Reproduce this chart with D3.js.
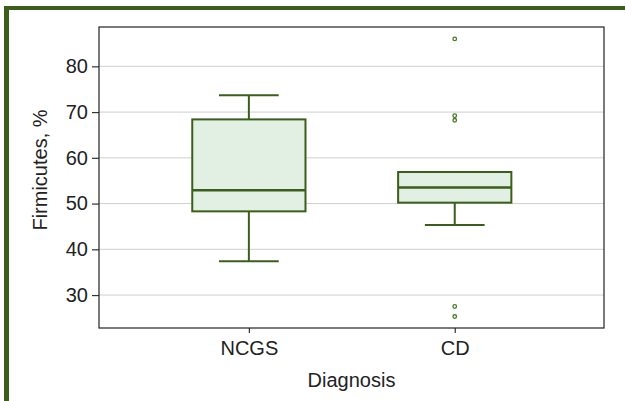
<!DOCTYPE html>
<html>
<head>
<meta charset="utf-8">
<script src="https://cdn.jsdelivr.net/npm/d3@7"></script>
<style>
  html, body { margin: 0; padding: 0; background: #fff; }
  svg { display: block; font-family: "Liberation Sans", Arial, sans-serif; }
</style>
</head>
<body>
<svg id="chart" width="625" height="401"></svg>
<script>
// Firmicutes share (%) by diagnosis: box summaries and outliers
const categories = ["NCGS", "CD"];
const whiskerLow  = [37.4, 45.3];
const q1          = [48.3, 50.2];
const median      = [52.9, 53.5];
const q3          = [68.4, 56.9];
const whiskerHigh = [73.7, 56.9];
const outliers    = [[], [86.0, 69.2, 68.2, 27.5, 25.3]];
const yTicks      = [30, 40, 50, 60, 70, 80];

const green = "#3b5e1c";
const fill = "#e2f0e3";

const svg = d3.select("#chart");
const W = 625, H = 401;
const m = { left: 99, top: 27, right: 604, bottom: 328 };

// outer decorative frame (top and left edges)
svg.append("rect").attr("x", 4).attr("y", 6).attr("width", W).attr("height", 4).attr("fill", green);
svg.append("rect").attr("x", 4).attr("y", 6).attr("width", 5).attr("height", H).attr("fill", green);

const x = d3.scaleLinear().domain([0.272, 2.725]).range([m.left, m.right]);
const y = d3.scaleLinear().domain([22.8, 88.6]).range([m.bottom, m.top]);
const unit = x(2) - x(1);
const boxW = unit * 0.55;
const capW = unit * 0.29;

// horizontal grid
svg.append("g").selectAll("line").data(yTicks).join("line")
  .attr("x1", m.left).attr("x2", m.right)
  .attr("y1", d => y(d)).attr("y2", d => y(d))
  .attr("stroke", "#cfcfcf").attr("stroke-width", 1);

// axes
const yAxis = svg.append("g").attr("transform", `translate(${m.left},0)`)
  .call(d3.axisLeft(y).tickValues(yTicks).tickSize(7).tickPadding(4));
const xAxis = svg.append("g").attr("transform", `translate(0,${m.bottom})`)
  .call(d3.axisBottom(x).tickValues([1, 2]).tickFormat((d, i) => categories[i]).tickSize(5).tickPadding(8));
[yAxis, xAxis].forEach(g => {
  g.select(".domain").remove();
  g.selectAll(".tick line").attr("stroke", "#333").attr("stroke-width", 1.2);
  g.selectAll(".tick text").attr("fill", "#222").style("font-size", "20px")
    .style("font-family", "'Liberation Sans', Arial, sans-serif");
});

// plot frame
svg.append("rect")
  .attr("x", m.left).attr("y", m.top)
  .attr("width", m.right - m.left).attr("height", m.bottom - m.top)
  .attr("fill", "none").attr("stroke", "#222").attr("stroke-width", 1.2);

// boxes
const data = categories.map((c, i) => ({
  pos: i + 1, lo: whiskerLow[i], q1: q1[i], med: median[i], q3: q3[i], hi: whiskerHigh[i], out: outliers[i]
}));
const g = svg.append("g");
data.forEach(d => {
  const cx = x(d.pos);
  const bg = g.append("g").attr("stroke", green).attr("stroke-width", 2);
  // whiskers
  bg.append("line").attr("x1", cx).attr("x2", cx).attr("y1", y(d.q3)).attr("y2", y(d.hi));
  bg.append("line").attr("x1", cx).attr("x2", cx).attr("y1", y(d.q1)).attr("y2", y(d.lo));
  bg.append("line").attr("x1", cx - capW / 2).attr("x2", cx + capW / 2).attr("y1", y(d.hi)).attr("y2", y(d.hi));
  bg.append("line").attr("x1", cx - capW / 2).attr("x2", cx + capW / 2).attr("y1", y(d.lo)).attr("y2", y(d.lo));
  // box
  bg.append("rect").attr("x", cx - boxW / 2).attr("y", y(d.q3))
    .attr("width", boxW).attr("height", y(d.q1) - y(d.q3)).attr("fill", fill);
  // median
  bg.append("line").attr("x1", cx - boxW / 2).attr("x2", cx + boxW / 2)
    .attr("y1", y(d.med)).attr("y2", y(d.med)).attr("stroke-width", 2.5);
  // outliers
  bg.selectAll("circle").data(d.out).join("circle")
    .attr("cx", cx).attr("cy", v => y(v)).attr("r", 1.8)
    .attr("fill", "#fff").attr("stroke", "#4a7a2a").attr("stroke-width", 1.3);
});

// axis titles
svg.append("text").attr("x", (m.left + m.right) / 2).attr("y", 387)
  .attr("text-anchor", "middle").attr("fill", "#222").style("font-size", "20px")
  .text("Diagnosis");
svg.append("text").attr("transform", `translate(47,170) rotate(-90)`)
  .attr("text-anchor", "middle").attr("fill", "#222").style("font-size", "20px")
  .text("Firmicutes, %");
</script>
</body>
</html>
